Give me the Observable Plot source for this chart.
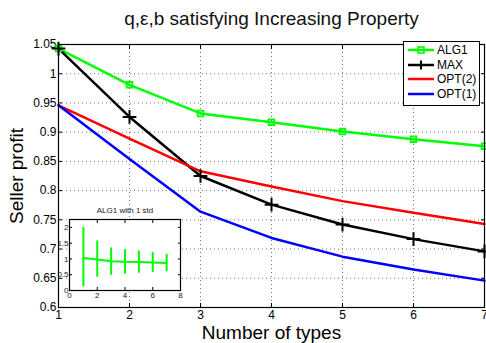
<!DOCTYPE html>
<html>
<head>
<meta charset="utf-8">
<script src="https://cdn.jsdelivr.net/npm/d3@7"></script>
<script src="https://cdn.jsdelivr.net/npm/@observablehq/plot@0.6"></script>
<style>
  html, body { margin: 0; padding: 0; background: white; }
  #wrap { position: relative; width: 486px; height: 343px; font-family: "Liberation Sans", Arial, sans-serif; }
  #wrap svg { position: absolute; overflow: visible; }
  #legend { position: absolute; left: 403px; top: 41px; width: 75px; height: 63px; border: 1px solid black; background: white; }
  .row { position: absolute; left: 4px; height: 14px; font-size: 12px; line-height: 14px; display: flex; align-items: center; }
  .row svg { position: static !important; margin-right: 3px; }
</style>
</head>
<body>
<div id="wrap"></div>
<script>
const types = [1, 2, 3, 4, 5, 6, 7];
const alg1 = [1.043, 0.981, 0.932, 0.917, 0.901, 0.888, 0.876];
const maxv = [1.043, 0.926, 0.825, 0.776, 0.742, 0.717, 0.696];
const opt2 = [0.946, 0.889, 0.833, 0.807, 0.782, 0.762, 0.743];
const opt1 = [0.946, 0.854, 0.764, 0.719, 0.687, 0.665, 0.646];
const yTicks = [0.6, 0.65, 0.7, 0.75, 0.8, 0.85, 0.9, 0.95, 1, 1.05];
const seriesNames = ["ALG1", "MAX", "OPT(2)", "OPT(1)"];
const seriesColors = ["#00ff00", "#000000", "#ff0000", "#0000ff"];

// inset: ALG1 with 1 std
const insetMean = [1.03, 0.98, 0.93, 0.91, 0.90, 0.885, 0.875];
const insetLow = [0.12, 0.42, 0.48, 0.52, 0.55, 0.57, 0.60];
const insetHigh = [2.0, 1.57, 1.35, 1.30, 1.25, 1.20, 1.15];
const insetXTicks = [0, 2, 4, 6, 8];
const insetYTicks = [0, 0.5, 1, 1.5, 2];

const FONT = '"Liberation Sans", Arial, sans-serif';
const rows = [];
const series = [alg1, maxv, opt2, opt1];
series.forEach((vals, i) => types.forEach((t, j) => rows.push({name: seriesNames[i], x: t, y: vals[j]})));
const fmt = d => String(+d.toFixed(2));

const main = Plot.plot({
  width: 486, height: 343,
  marginLeft: 58, marginRight: 2, marginTop: 44, marginBottom: 36,
  style: {fontFamily: FONT, background: "transparent"},
  x: {domain: [1, 7]},
  y: {domain: [0.6, 1.05]},
  marks: [
    Plot.gridX(types, {stroke: "#777", strokeOpacity: 1, strokeDasharray: "1,3"}),
    Plot.gridY(yTicks, {stroke: "#777", strokeOpacity: 1, strokeDasharray: "1,3"}),
    Plot.axisX(types, {anchor: "bottom", tickSize: -4, text: null, label: null}),
    Plot.axisX(types, {anchor: "top", tickSize: -4, text: null, label: null}),
    Plot.axisY(yTicks, {anchor: "left", tickSize: -4, text: null, label: null}),
    Plot.axisY(yTicks, {anchor: "right", tickSize: -4, text: null, label: null}),
    Plot.axisX(types, {anchor: "bottom", tickSize: 0, tickPadding: 3, fontSize: 12, fill: "black", label: null}),
    Plot.axisY(yTicks, {anchor: "left", tickSize: 0, tickPadding: 2, fontSize: 12, fill: "black", tickFormat: fmt, label: null}),
    Plot.line(rows, {x: "x", y: "y", z: "name", stroke: "name", strokeWidth: 2.5}),
    Plot.dot(rows.filter(d => d.name === "ALG1"), {x: "x", y: "y", symbol: "square", r: 3.2, stroke: "#00ff00", strokeWidth: 1.8, fill: "none"}),
    Plot.dot(rows.filter(d => d.name === "MAX"), {x: "x", y: "y", symbol: "plus", r: 4.5, stroke: "black", strokeWidth: 2}),
    Plot.frame({stroke: "black", strokeWidth: 1.2}),
    Plot.text(["q,ε,b satisfying Increasing Property"], {frameAnchor: "top", lineAnchor: "middle", dy: -26, fontSize: 19, fill: "#111"}),
    Plot.text(["Number of types"], {frameAnchor: "bottom", lineAnchor: "middle", dy: 25, fontSize: 19, fill: "black"}),
    Plot.text(["Seller profit"], {frameAnchor: "left", textAnchor: "middle", lineAnchor: "middle", dx: -42, rotate: -90, fontSize: 19, fill: "black"})
  ],
  color: {domain: seriesNames, range: seriesColors}
});
main.style.left = "0px"; main.style.top = "0px";
document.getElementById("wrap").appendChild(main);

const ins = insetMean.map((m, i) => ({x: types[i], m, lo: insetLow[i], hi: insetHigh[i]}));
const inset = Plot.plot({
  width: 130, height: 100,
  marginLeft: 14, marginRight: 5, marginTop: 16, marginBottom: 13,
  style: {fontFamily: FONT, background: "transparent"},
  x: {domain: [0, 8]},
  y: {domain: [0, 2.25]},
  marks: [
    Plot.frame({fill: "white", stroke: "none"}),
    Plot.axisX(insetXTicks, {anchor: "bottom", tickSize: -3, text: null, label: null}),
    Plot.axisX(insetXTicks, {anchor: "top", tickSize: -3, text: null, label: null}),
    Plot.axisY(insetYTicks, {anchor: "left", tickSize: -3, text: null, label: null}),
    Plot.axisY(insetYTicks, {anchor: "right", tickSize: -3, text: null, label: null}),
    Plot.axisX(insetXTicks, {anchor: "bottom", tickSize: 0, tickPadding: 2, fontSize: 8, fill: "#222", label: null}),
    Plot.axisY(insetYTicks, {anchor: "left", tickSize: 0, tickPadding: 1, fontSize: 8, fill: "#222", tickFormat: fmt, label: null}),
    Plot.ruleX(ins, {x: "x", y1: "lo", y2: "hi", stroke: "#00ff00", strokeWidth: 2}),
    Plot.line(ins, {x: "x", y: "m", stroke: "#00ff00", strokeWidth: 2}),
    Plot.frame({stroke: "black", strokeWidth: 1.2}),
    Plot.text(["ALG1 with 1 std"], {frameAnchor: "top", lineAnchor: "middle", dy: -9, fontSize: 8, fill: "#222"})
  ]
});
inset.style.left = "55px"; inset.style.top = "203px";
document.getElementById("wrap").appendChild(inset);

// legend
const legend = document.createElement("div");
legend.id = "legend";
seriesNames.forEach((name, i) => {
  const row = document.createElement("div");
  row.className = "row";
  row.style.top = (1 + i * 14.7) + "px";
  const ns = "http://www.w3.org/2000/svg";
  const s = document.createElementNS(ns, "svg");
  s.setAttribute("width", 26); s.setAttribute("height", 12);
  const l = document.createElementNS(ns, "line");
  l.setAttribute("x1", 0); l.setAttribute("x2", 26); l.setAttribute("y1", 6); l.setAttribute("y2", 6);
  l.setAttribute("stroke", seriesColors[i]); l.setAttribute("stroke-width", 2.5);
  s.appendChild(l);
  if (name === "ALG1") {
    const r = document.createElementNS(ns, "rect");
    r.setAttribute("x", 10); r.setAttribute("y", 3); r.setAttribute("width", 6); r.setAttribute("height", 6);
    r.setAttribute("fill", "none"); r.setAttribute("stroke", seriesColors[i]); r.setAttribute("stroke-width", 1.6);
    s.appendChild(r);
  } else if (name === "MAX") {
    const p = document.createElementNS(ns, "path");
    p.setAttribute("d", "M13,1.5V10.5M8.5,6H17.5");
    p.setAttribute("stroke", "black"); p.setAttribute("stroke-width", 2);
    s.appendChild(p);
  }
  row.appendChild(s);
  const t = document.createElement("span");
  t.textContent = name;
  row.appendChild(t);
  legend.appendChild(row);
});
document.getElementById("wrap").appendChild(legend);
</script>
</body>
</html>
